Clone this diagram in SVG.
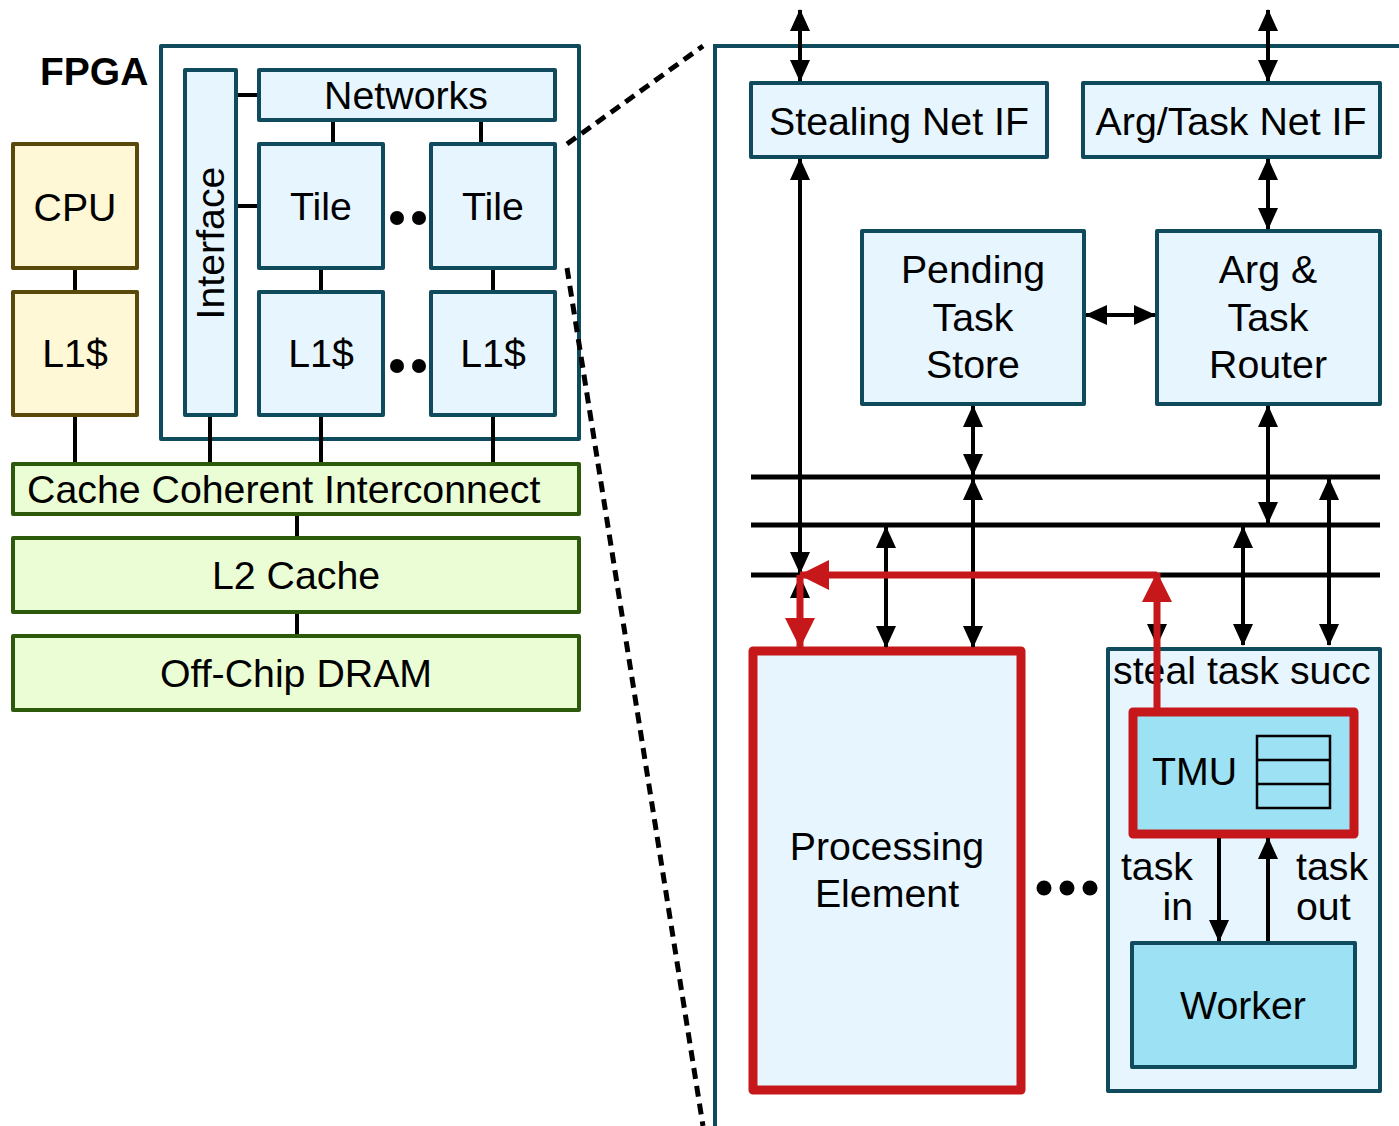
<svg xmlns="http://www.w3.org/2000/svg" width="1399" height="1126" viewBox="0 0 1399 1126">
<defs>
<style>
text{font-family:"Liberation Sans",Arial,sans-serif;font-size:39.3px;fill:#000}
.c{text-anchor:middle}
.blue{fill:#e6f5fe;stroke:#0f4b5c;stroke-width:4;stroke-linejoin:round}
.cyan{fill:#9de2f4;stroke:#0f4b5c;stroke-width:4;stroke-linejoin:round}
.yel{fill:#fff8d6;stroke:#594a0b;stroke-width:4;stroke-linejoin:round}
.grn{fill:#ebfdd4;stroke:#2d5a0a;stroke-width:4;stroke-linejoin:round}
.redb{stroke:#c6181b;stroke-width:9;stroke-linejoin:round}
.ln{stroke:#000;stroke-width:4;fill:none}
.bus{stroke:#000;stroke-width:5;fill:none}
.arr{stroke:#000;stroke-width:4;fill:none;marker-end:url(#ah);marker-start:url(#ah)}
.arr1{stroke:#000;stroke-width:4;fill:none;marker-end:url(#ah)}
.rarr{stroke:#c6181b;stroke-width:7;fill:none;marker-end:url(#rh)}
.dash{stroke:#000;stroke-width:5;stroke-dasharray:11 7;fill:none}
</style>
<marker id="ah" markerUnits="userSpaceOnUse" markerWidth="22" markerHeight="20" refX="21" refY="10" orient="auto-start-reverse" viewBox="0 0 22 20">
<path d="M0,0 L22,10 L0,20 Z" fill="#000"/>
</marker>
<marker id="rh" markerUnits="userSpaceOnUse" markerWidth="30" markerHeight="30" refX="29" refY="15" orient="auto" viewBox="0 0 30 30">
<path d="M0,0 L30,15 L0,30 Z" fill="#c6181b"/>
</marker>
</defs>

<text x="40" y="85" style="font-weight:bold;font-size:39px">FPGA</text>

<g id="fpga">
<rect x="161" y="46" width="418" height="393" fill="#fff" stroke="#0f4b5c" stroke-width="4" stroke-linejoin="round"/>
</g>

<g id="connectors-left">
<line class="ln" x1="75" y1="268" x2="75" y2="292"/>
<line class="ln" x1="75" y1="415" x2="75" y2="464"/>
<line class="ln" x1="236" y1="95" x2="259" y2="95"/>
<line class="ln" x1="236" y1="206" x2="259" y2="206"/>
<line class="ln" x1="333" y1="120" x2="333" y2="144"/>
<line class="ln" x1="481" y1="120" x2="481" y2="144"/>
<line class="ln" x1="321" y1="268" x2="321" y2="292"/>
<line class="ln" x1="493" y1="268" x2="493" y2="292"/>
<line class="ln" x1="210" y1="415" x2="210" y2="464"/>
<line class="ln" x1="321" y1="415" x2="321" y2="464"/>
<line class="ln" x1="493" y1="415" x2="493" y2="464"/>
<line class="ln" x1="297" y1="514" x2="297" y2="538"/>
<line class="ln" x1="297" y1="612" x2="297" y2="636"/>
<line class="dash" x1="567" y1="144" x2="703" y2="46"/>
<line class="dash" x1="567" y1="268" x2="703" y2="1126"/>
</g>

<g id="cpu"><rect class="yel" x="13" y="144" width="124" height="124"/><text class="c" x="75" y="221">CPU</text></g>
<g id="cpu-l1"><rect class="yel" x="13" y="292" width="124" height="123"/><text class="c" x="75" y="367">L1$</text></g>
<g id="interface"><rect class="blue" x="185" y="70" width="51" height="345"/><text class="c" transform="translate(224,243) rotate(-90)">Interface</text></g>
<g id="networks"><rect class="blue" x="259" y="70" width="296" height="50"/><text class="c" x="406" y="109">Networks</text></g>
<g id="tile1"><rect class="blue" x="259" y="144" width="124" height="124"/><text class="c" x="321" y="220">Tile</text></g>
<g id="tile2"><rect class="blue" x="431" y="144" width="124" height="124"/><text class="c" x="493" y="220">Tile</text></g>
<g id="l1a"><rect class="blue" x="259" y="292" width="124" height="123"/><text class="c" x="321" y="367">L1$</text></g>
<g id="l1b"><rect class="blue" x="431" y="292" width="124" height="123"/><text class="c" x="493" y="367">L1$</text></g>
<g id="dots-left">
<circle cx="397" cy="218" r="7"/><circle cx="419" cy="218" r="7"/>
<circle cx="397" cy="366" r="7"/><circle cx="419" cy="366" r="7"/>
</g>
<g id="cci"><rect class="grn" x="13" y="464" width="566" height="50"/><text x="27" y="503">Cache Coherent Interconnect</text></g>
<g id="l2"><rect class="grn" x="13" y="538" width="566" height="74"/><text class="c" x="296" y="589">L2 Cache</text></g>
<g id="dram"><rect class="grn" x="13" y="636" width="566" height="74"/><text class="c" x="296" y="687">Off-Chip DRAM</text></g>

<g id="tile-detail">
<path d="M1399,46 L715,46 L715,1126" fill="none" stroke="#0f4b5c" stroke-width="4"/>
</g>

<g id="stealing-net-if"><rect class="blue" x="751" y="83" width="296" height="74"/><text class="c" x="899" y="135">Stealing Net IF</text></g>
<g id="argtask-net-if"><rect class="blue" x="1083" y="83" width="297" height="74"/><text class="c" x="1231" y="135">Arg/Task Net IF</text></g>
<g id="pending"><rect class="blue" x="862" y="231" width="222" height="173"/>
<text class="c" x="973" y="283">Pending</text><text class="c" x="973" y="331">Task</text><text class="c" x="973" y="378">Store</text></g>
<g id="router"><rect class="blue" x="1157" y="231" width="223" height="173"/>
<text class="c" x="1268" y="283">Arg &amp;</text><text class="c" x="1268" y="331">Task</text><text class="c" x="1268" y="378">Router</text></g>

<g id="pe"><rect class="redb" x="753" y="651" width="268" height="439" fill="#e6f5fe"/>
<text class="c" x="887" y="860">Processing</text><text class="c" x="887" y="907">Element</text></g>
<g id="dots-right"><circle cx="1044" cy="888" r="7.5"/><circle cx="1067" cy="888" r="7.5"/><circle cx="1090" cy="888" r="7.5"/></g>
<g id="pe2"><rect class="blue" x="1108" y="649" width="272" height="442"/>
<text x="1113" y="684">steal task succ</text></g>
<g id="tmu"><rect class="redb" x="1133" y="712" width="221" height="122" fill="#9de2f4"/>
<text x="1152" y="785">TMU</text>
<g fill="none" stroke="#000" stroke-width="2.5"><rect x="1257" y="736" width="73" height="72"/><line x1="1257" y1="760" x2="1330" y2="760"/><line x1="1257" y1="784" x2="1330" y2="784"/></g></g>
<g id="worker"><rect class="cyan" x="1132" y="943" width="223" height="124"/><text class="c" x="1243" y="1019">Worker</text></g>
<text x="1193" y="880" style="text-anchor:end">task</text><text x="1193" y="920" style="text-anchor:end">in</text>
<text x="1296" y="880">task</text><text x="1296" y="920">out</text>

<g id="connectors">
<line class="bus" x1="751" y1="477" x2="1380" y2="477"/>
<line class="bus" x1="751" y1="525" x2="1380" y2="525"/>
<line class="bus" x1="751" y1="575" x2="1380" y2="575"/>
<line class="arr" x1="800" y1="10" x2="800" y2="81"/>
<line class="arr" x1="1268" y1="10" x2="1268" y2="81"/>
<line class="arr" x1="800" y1="159" x2="800" y2="573"/>
<line class="arr" x1="800" y1="577" x2="800" y2="647"/>
<line class="arr" x1="1268" y1="159" x2="1268" y2="229"/>
<line class="arr" x1="1086" y1="315" x2="1155" y2="315"/>
<line class="arr" x1="973" y1="406" x2="973" y2="475"/>
<line class="arr" x1="973" y1="479" x2="973" y2="647"/>
<line class="arr" x1="886" y1="527" x2="886" y2="647"/>
<line class="arr" x1="1268" y1="406" x2="1268" y2="523"/>
<line class="arr" x1="1329" y1="479" x2="1329" y2="645"/>
<line class="arr" x1="1243" y1="527" x2="1243" y2="645"/>
<line class="arr" x1="1157" y1="577" x2="1157" y2="645"/>
<line class="arr1" x1="1219" y1="838" x2="1219" y2="941"/>
<line class="arr1" x1="1268" y1="941" x2="1268" y2="838"/>
<line class="rarr" x1="1157" y1="712" x2="1157" y2="573"/>
<line class="rarr" x1="1157" y1="575" x2="800" y2="575"/>
<line class="rarr" x1="800" y1="575" x2="800" y2="647"/>
</g>
</svg>
